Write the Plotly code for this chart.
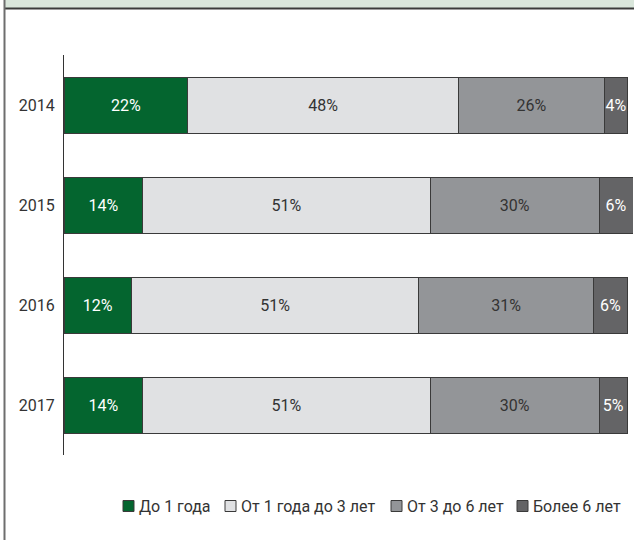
import plotly.graph_objects as go

years = ["2014", "2015", "2016", "2017"]
series_names = ["До 1 года", "От 1 года до 3 лет", "От 3 до 6 лет", "Более 6 лет"]
up_to_1 = [22, 14, 12, 14]
from_1_to_3 = [48, 51, 51, 51]
from_3_to_6 = [26, 30, 31, 30]
over_6 = [4, 6, 6, 5]

values = [up_to_1, from_1_to_3, from_3_to_6, over_6]
colors = ["#04652f", "#e0e1e3", "#939598", "#646466"]
text_colors = ["#ffffff", "#333333", "#333333", "#ffffff"]
outline = "#3a3a3a"

W, H = 634, 540
ML, MR, MT, MB = 64, 1, 55, 85
PW, PH = W - ML - MR, H - MT - MB
FONT = "Roboto"

def px_x(p):
    return (p - ML) / PW

def px_y(p):
    return (H - MB - p) / PH

fig = go.Figure()
for name, vals, c, tc in zip(series_names, values, colors, text_colors):
    fig.add_trace(go.Bar(
        y=years, x=vals, name=name, orientation="h",
        marker=dict(color=c, line=dict(color=outline, width=1)),
        text=[f"{v}%" for v in vals], textposition="inside", textangle=0,
        insidetextanchor="middle", constraintext="none",
        textfont=dict(color=tc, size=16, family=FONT),
        cliponaxis=False, hoverinfo="skip", showlegend=False,
    ))

# legend drawn as keys + labels below the plot
legend_icon_left = [123, 225, 391, 517]
legend_y = 506
shapes = [
    dict(type="rect", xref="paper", yref="paper", x0=px_x(5), x1=px_x(W), y0=px_y(0), y1=px_y(8),
         fillcolor="#d9e6db", line=dict(width=0), layer="below"),
    dict(type="line", xref="paper", yref="paper", x0=px_x(4), x1=px_x(W), y0=px_y(8.5), y1=px_y(8.5),
         line=dict(color="#3a3a3a", width=2)),
    dict(type="line", xref="paper", yref="paper", x0=px_x(4.5), x1=px_x(4.5), y0=px_y(0), y1=px_y(H),
         line=dict(color="#6e6e6e", width=2)),
]
annotations = []
for name, c, xl in zip(series_names, colors, legend_icon_left):
    shapes.append(dict(type="rect", xref="paper", yref="paper",
                       x0=px_x(xl), x1=px_x(xl + 11),
                       y0=px_y(legend_y - 5.5), y1=px_y(legend_y + 5.5),
                       fillcolor=c, line=dict(color=outline, width=1)))
    annotations.append(dict(text=name, xref="paper", yref="paper",
                            x=px_x(xl + 14), xanchor="left",
                            y=px_y(legend_y), yanchor="middle", showarrow=False,
                            font=dict(size=16, color="#333333", family=FONT)))

fig.update_layout(
    width=W, height=H,
    margin=dict(l=ML, r=MR, t=MT, b=MB, autoexpand=False),
    barmode="stack", bargap=0.44,
    plot_bgcolor="white", paper_bgcolor="white",
    font=dict(family=FONT, size=16, color="#333333"),
    xaxis=dict(range=[0, 101], visible=False, fixedrange=True),
    yaxis=dict(type="category", categoryorder="array", categoryarray=years,
               range=[3.5, -0.5], showline=True, linecolor="#333333", linewidth=1,
               ticks="", showgrid=False, zeroline=False, ticklabelstandoff=5,
               tickfont=dict(size=16, color="#333333"), fixedrange=True),
    showlegend=False,
    shapes=shapes,
    annotations=annotations,
)

fig.write_html("out.html", config={"displayModeBar": False},
               post_script="document.body.style.margin='0';document.body.style.overflow='hidden';")
